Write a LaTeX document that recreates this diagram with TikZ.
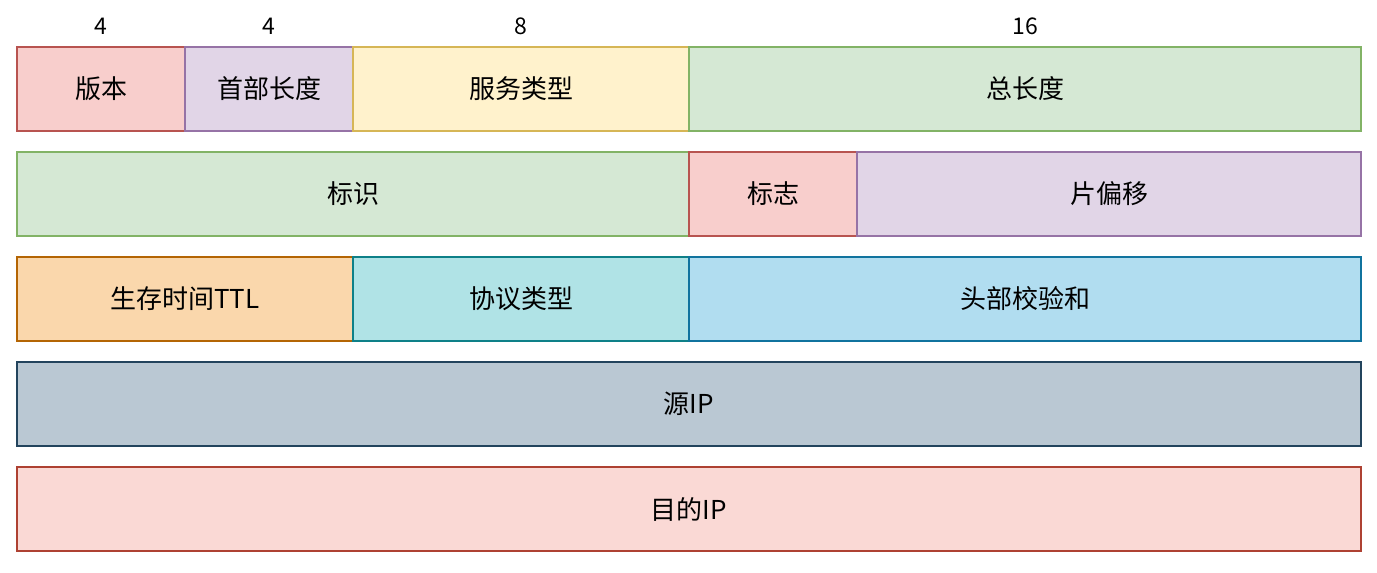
\documentclass[tikz,border=0pt]{standalone}
\usepackage{fontspec}
\setmainfont{Noto Sans CJK SC}
\begin{document}
\begin{tikzpicture}[x=1pt,y=-1pt,
  cell/.style={draw,line width=1.5pt,minimum height=84pt,inner sep=0pt,font=\fontsize{26}{30}\selectfont},
  num/.style={font=\fontsize{23}{26}\selectfont}]
\useasboundingbox (0,0) rectangle (1377,573);
\definecolor{rf}{HTML}{F8CECC}\definecolor{rs}{HTML}{B85450}
\definecolor{pf}{HTML}{E1D5E7}\definecolor{ps}{HTML}{9673A6}
\definecolor{yf}{HTML}{FFF2CC}\definecolor{ys}{HTML}{D6B656}
\definecolor{gf}{HTML}{D5E8D4}\definecolor{gs}{HTML}{82B366}
\definecolor{of}{HTML}{FAD7AC}\definecolor{os}{HTML}{B46504}
\definecolor{tf}{HTML}{B0E3E6}\definecolor{ts}{HTML}{0E8088}
\definecolor{bf}{HTML}{B1DDF0}\definecolor{bs}{HTML}{10739E}
\definecolor{af}{HTML}{BAC8D3}\definecolor{as}{HTML}{23445D}
\definecolor{kf}{HTML}{FAD9D5}\definecolor{ks}{HTML}{AE4132}
\newcommand{\cellbox}[7]{\node[cell,fill=#1,draw=#2,minimum width={#4-#3},anchor=center] (#7) at ({(#3+#4)/2},{#5}) {#6};}
\cellbox{rf}{rs}{17}{185}{89}{版本}{ver}
\cellbox{pf}{ps}{185}{353}{89}{首部长度}{hlen}
\cellbox{yf}{ys}{353}{689}{89}{服务类型}{tos}
\cellbox{gf}{gs}{689}{1361}{89}{总长度}{tlen}
\cellbox{gf}{gs}{17}{689}{194}{标识}{id}
\cellbox{rf}{rs}{689}{857}{194}{标志}{flag}
\cellbox{pf}{ps}{857}{1361}{194}{片偏移}{frag}
\cellbox{of}{os}{17}{353}{299}{生存时间TTL}{ttl}
\cellbox{tf}{ts}{353}{689}{299}{协议类型}{proto}
\cellbox{bf}{bs}{689}{1361}{299}{头部校验和}{csum}
\cellbox{af}{as}{17}{1361}{404}{源IP}{src}
\cellbox{kf}{ks}{17}{1361}{509}{目的IP}{dst}
\node[num] (n1) at (101,26) {4};
\node[num] (n2) at (269,26) {4};
\node[num] (n3) at (521,26) {8};
\node[num] (n4) at (1025,26) {16};
\end{tikzpicture}
\end{document}
